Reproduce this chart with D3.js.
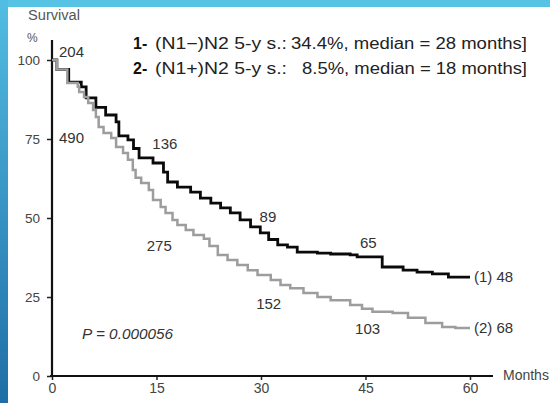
<!DOCTYPE html>
<html>
<head>
<meta charset="utf-8">
<script src="https://cdn.jsdelivr.net/npm/d3@7"></script>
<style>
  html, body { margin: 0; padding: 0; background: #fff; overflow: hidden; }
  svg { display: block; font-family: "Liberation Sans", Arial, sans-serif; }
</style>
</head>
<body>
<svg id="chart" width="550" height="403"></svg>
<script>
// data
const g1Months = [0, 0.7, 2.4, 4.2, 4.9, 6.3, 7.7, 9.2, 9.6, 10.9, 11.7, 12.5, 14.5, 16, 16.6, 18, 19.9, 21.3, 22.8, 24.2, 25.6, 27, 28.5, 29.9, 31.1, 32.4, 33.8, 35.2, 38.1, 40, 42.8, 43.8, 47.4, 50.4, 52.4, 54.6, 56.9, 60];
const g1Surv = [100, 97, 93, 91.5, 88, 85, 82.6, 80.4, 76, 74.7, 72, 69, 67.4, 64.5, 61.4, 59.8, 58.2, 56.3, 54.7, 53.2, 51.6, 49.4, 47.2, 45.3, 43.2, 41.5, 40.8, 39.2, 38.9, 38.6, 38.3, 37.7, 34.5, 33.5, 32.9, 32.3, 31.3, 31.3];

const g2Months = [0, 0.7, 2.2, 3.7, 3.9, 4.6, 5.2, 5.9, 6.3, 6.7, 7.4, 8.5, 9.2, 10.2, 10.9, 11.6, 12, 12.8, 13.9, 14.5, 15.6, 16.3, 17.3, 18, 19.2, 20.3, 21.8, 22.6, 23.8, 25.2, 26.6, 28.1, 29.5, 31.4, 32.8, 34.2, 36.1, 38.1, 40, 42.8, 44.5, 46, 48.9, 51.1, 53.6, 56, 57.9, 60];
const g2Surv = [100, 97, 92.7, 91.5, 89.9, 88.3, 86.4, 84.2, 82, 78.8, 76.9, 75.3, 72.5, 70.6, 68.4, 65.2, 62.7, 61.1, 58.9, 55.7, 53.5, 51.6, 49.4, 47.8, 46.2, 44.6, 43.4, 41.1, 38.3, 36.7, 35.1, 33.5, 32, 30.4, 28.8, 27.8, 26.3, 25, 24, 22.5, 21.3, 20.3, 19.9, 18.4, 16.8, 15.5, 15.2, 15.2];

// numbers at risk
const atRisk1 = ["204", "136", "89", "65"];
const atRisk2 = ["490", "275", "152", "103"];
const end1 = "(1) 48";
const end2 = "(2) 68";

const xTicks = [0, 15, 30, 45, 60];
const yTicks = [0, 25, 50, 75, 100];

const svg = d3.select("#chart");

// blue frame
const grad = svg.append("defs").append("linearGradient")
  .attr("id", "side").attr("x1", 0).attr("y1", 0).attr("x2", 0).attr("y2", 1);
grad.append("stop").attr("offset", 0).attr("stop-color", "#52bde2");
grad.append("stop").attr("offset", 1).attr("stop-color", "#1f6ea6");
svg.append("rect").attr("x", 0).attr("y", 0).attr("width", 550).attr("height", 7).attr("fill", "#56c2e4");
svg.append("rect").attr("x", 0).attr("y", 0).attr("width", 8).attr("height", 403).attr("fill", "url(#side)");

const x = d3.scaleLinear().domain([0, 60]).range([52, 470]);
const y = d3.scaleLinear().domain([0, 100]).range([376, 60]);

// axes
const yAxis = svg.append("g").attr("transform", "translate(52,0)")
  .call(d3.axisLeft(y).tickValues(yTicks).tickSize(5).tickPadding(7));
yAxis.select(".domain").remove();
yAxis.selectAll("line").attr("stroke", "#222").attr("stroke-width", 1.5);
yAxis.selectAll("text").attr("font-size", 13.5).attr("fill", "#444").attr("font-family", "Liberation Sans, Arial");

const xAxis = svg.append("g").attr("transform", "translate(0,376)")
  .call(d3.axisBottom(x).tickValues(xTicks).tickSize(4).tickPadding(3));
xAxis.select(".domain").remove();
xAxis.selectAll("line").attr("stroke", "#222").attr("stroke-width", 1.5);
xAxis.selectAll("text").attr("font-size", 14).attr("fill", "#444").attr("font-family", "Liberation Sans, Arial");

svg.append("line").attr("x1", 52).attr("x2", 52).attr("y1", 40).attr("y2", 377)
  .attr("stroke", "#111").attr("stroke-width", 2.2);
svg.append("line").attr("x1", 50).attr("x2", 493).attr("y1", 376).attr("y2", 376)
  .attr("stroke", "#111").attr("stroke-width", 2.2);

// curves
const line = d3.line()
  .x(d => x(d[0]))
  .y(d => y(d[1]))
  .curve(d3.curveStepAfter);

svg.append("path")
  .datum(d3.zip(g1Months, g1Surv))
  .attr("d", line)
  .attr("fill", "none").attr("stroke", "#0a0a0a").attr("stroke-width", 2.8);

svg.append("path")
  .datum(d3.zip(g2Months, g2Surv))
  .attr("d", line)
  .attr("fill", "none").attr("stroke", "#9d9d9d").attr("stroke-width", 2.5);

// titles
svg.append("text").attr("x", 28).attr("y", 20).text("Survival")
  .attr("font-size", 14).attr("fill", "#555")
  .attr("textLength", 52).attr("lengthAdjust", "spacingAndGlyphs");
svg.append("text").attr("x", 27).attr("y", 42).text("%")
  .attr("font-size", 12).attr("fill", "#555");
svg.append("text").attr("x", 503).attr("y", 380).text("Months")
  .attr("font-size", 14).attr("fill", "#444");

// numbers at risk (label anchor in month / survival units)
const risk1Pos = [[1, 102.5], [16.2, 73.5], [31, 50.5], [45.4, 42.3]];
const risk2Pos = [[1, 75.5], [15.4, 41.2], [31.1, 23], [45.3, 14.8]];
const riskText = (vals, pos) => svg.append("g").selectAll("text")
  .data(vals).join("text")
  .attr("x", (d, i) => x(pos[i][0]))
  .attr("y", (d, i) => y(pos[i][1]))
  .attr("dy", "0.35em")
  .attr("text-anchor", (d, i) => i === 0 ? "start" : "middle")
  .attr("font-size", 15).attr("fill", "#333")
  .text(d => d);
riskText(atRisk1, risk1Pos);
riskText(atRisk2, risk2Pos);

svg.append("text").attr("x", x(60) + 4).attr("y", y(31.3)).attr("dy", "0.35em")
  .attr("font-size", 15).attr("fill", "#333").attr("xml:space", "preserve").text(end1);
svg.append("text").attr("x", x(60) + 4).attr("y", y(15.2)).attr("dy", "0.35em")
  .attr("font-size", 15).attr("fill", "#333").attr("xml:space", "preserve").text(end2);

svg.append("text").attr("x", 82).attr("y", 339).text("P = 0.000056")
  .attr("font-size", 15).attr("font-style", "italic").attr("fill", "#333")
  .attr("textLength", 91).attr("lengthAdjust", "spacingAndGlyphs");

// legend
const legend = [
  { num: "1-", a: "(N1\u2212)N2 5-y s.:", b: "34.4%, median = 28 months]", y: 49, bw: 236 },
  { num: "2-", a: "(N1+)N2 5-y s.:", b: "8.5%, median = 18 months]", y: 74, bw: 225 }
];
const lg = svg.append("g").selectAll("g").data(legend).join("g");
lg.append("text").attr("x", 133).attr("y", d => d.y).text(d => d.num)
  .attr("font-size", 16).attr("font-weight", "bold").attr("fill", "#111");
lg.append("text").attr("x", 155).attr("y", d => d.y).text(d => d.a)
  .attr("font-size", 16).attr("fill", "#222")
  .attr("textLength", 132).attr("lengthAdjust", "spacingAndGlyphs");
lg.append("text").attr("x", d => 527 - d.bw).attr("y", d => d.y).text(d => d.b)
  .attr("font-size", 16).attr("fill", "#222")
  .attr("textLength", d => d.bw).attr("lengthAdjust", "spacingAndGlyphs");
</script>
</body>
</html>
